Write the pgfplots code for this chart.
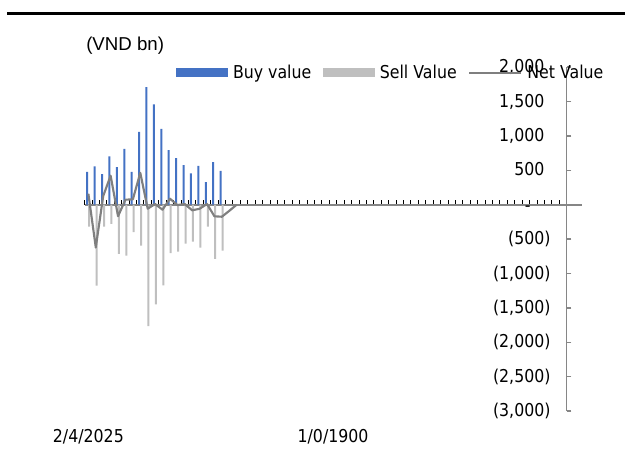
\documentclass[border=0pt]{standalone}
\usepackage{fontspec}
\setmainfont{DejaVu Sans}[FakeStretch=0.89]
\newfontfamily\libsans{Liberation Sans}
\usepackage{pgfplots}
\pgfplotsset{compat=1.18}
\definecolor{buyblue}{HTML}{4472C4}
\definecolor{sellgray}{HTML}{BFBFBF}
\definecolor{netgray}{HTML}{7F7F7F}
\definecolor{axgray}{HTML}{868686}
\begin{document}
\begin{tikzpicture}
\useasboundingbox (0,0) rectangle (468.75pt,-338.25pt);
\draw[line width=2.25pt] (5.4pt,-9.75pt) -- (468.75pt,-9.75pt);
\node[anchor=base west, inner sep=0pt, font=\libsans\fontsize{14}{16}\selectfont] at (64.5pt,-37.5pt) {(VND bn)};
\begin{axis}[
  at={(63.5pt,-308.3pt)}, anchor=south west,
  scale only axis, width=361.5pt, height=258pt,
  xmin=-0.5, xmax=64.5, ymin=-3000, ymax=2000,
  enlargelimits=false, clip=false,
  axis x line=middle, axis y line=right,
  axis line style={-},
  x axis line style={draw=axgray, line width=1.5pt},
  y axis line style={draw=axgray, line width=1pt},
  hide obscured x ticks=false, hide obscured y ticks=false,
  xtick={-0.5,0.5,...,64.5}, xticklabels={},
  xtick align=inside,
  xtick style={draw=black, line width=0.75pt},
  major tick length=3.6pt,
  extra x ticks={0,33},
  extra x tick labels={2/4/2025,1/0/1900},
  extra x tick style={xtick style={draw=none}},
  xticklabel style={anchor=base, yshift=-178.2pt},
  ytick={-3000,-2500,...,2000},
  yticklabels={{(3,000)},{(2,500)},{(2,000)},{(1,500)},{(1,000)},{(500)},{-\phantom{00}},{500\phantom{)}},{1,000\phantom{)}},{1,500\phantom{)}},{2,000\phantom{)}}},
  ytick align=outside,
  ytick style={draw=axgray, line width=1pt},
  yticklabel style={anchor=east, inner sep=0pt, xshift=-15.5pt},
  ticklabel style={font=\fontsize{13.3}{16}\selectfont},
  legend style={at={(0.1894,0.9834)}, anchor=west, draw=none, fill=none,
    inner sep=0pt, outer sep=0pt, font=\fontsize{13.3}{16}\selectfont,
    nodes={inner sep=0pt},
    /tikz/every odd column/.append style={column sep=4pt},
    /tikz/every even column/.append style={column sep=8.6pt}},
  legend columns=3, legend cell align=left,
]
\addplot[ybar, bar width=1.5pt, bar shift=-0.9pt, fill=buyblue, draw=none,
  legend image code/.code={\fill[buyblue] (0pt,-3.4pt) rectangle (38.8pt,3.4pt);}]
  coordinates {(0,478) (1,556) (2,444) (3,701) (4,546) (5,811) (6,478) (7,1057) (8,1709) (9,1458) (10,1100) (11,792) (12,676) (13,574) (14,454) (15,564) (16,328) (17,618) (18,492)};
\addplot[ybar, bar width=1.5pt, bar shift=0.6pt, fill=sellgray, draw=none,
  legend image code/.code={\fill[sellgray] (0pt,-3.4pt) rectangle (38.8pt,3.4pt);}]
  coordinates {(0,-318) (1,-1178) (2,-318) (3,-279) (4,-714) (5,-739) (6,-400) (7,-594) (8,-1767) (9,-1449) (10,-1173) (11,-705) (12,-681) (13,-565) (14,-536) (15,-623) (16,-318) (17,-787) (18,-667)};
\addplot[netgray, line width=1.6pt, mark=none, sharp plot, line join=round,
  legend image code/.code={\draw[netgray, line width=1.6pt] (0pt,0pt) -- (38.8pt,0pt);}]
  coordinates {(0,160) (1,-622) (2,126) (3,422) (4,-168) (5,72) (6,78) (7,463) (8,-58) (9,9) (10,-73) (11,87) (12,-5) (13,9) (14,-82) (15,-59) (16,10) (17,-169) (18,-175) (19,-90) (20,0)};
\legend{Buy value, Sell Value, Net Value}
\draw[axgray, line width=1.5pt] (axis cs:64.5,0) -- (axis cs:66.5,0);
\end{axis}
\end{tikzpicture}
\end{document}
